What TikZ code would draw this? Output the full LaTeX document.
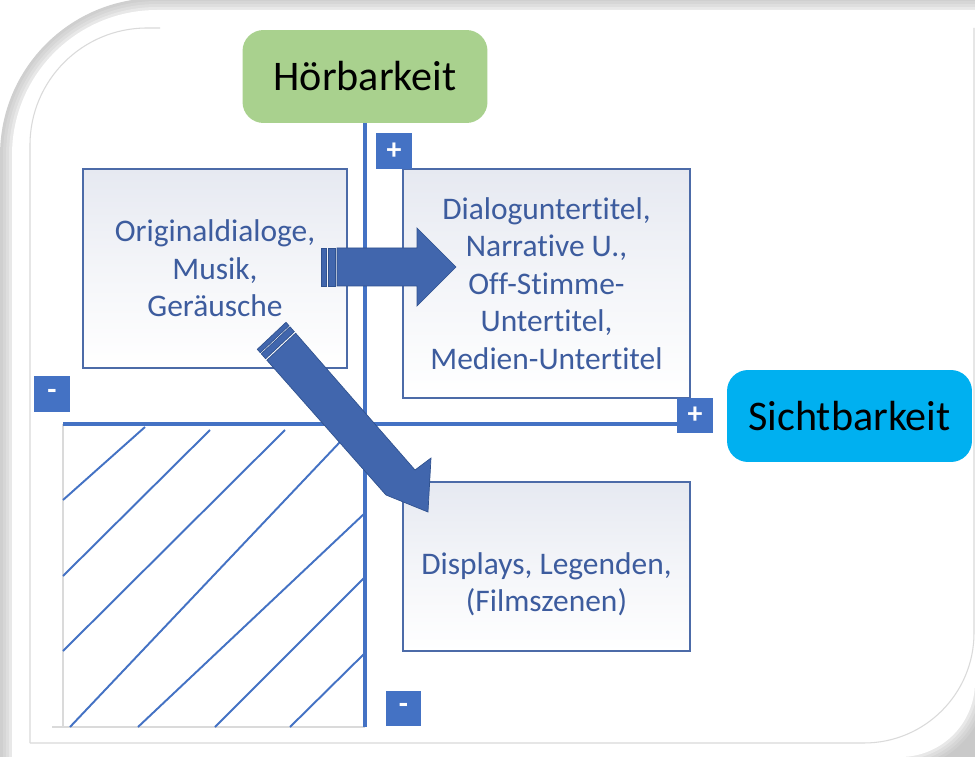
\documentclass[tikz,border=0pt]{standalone}
\usepackage{fontspec}
\setmainfont{Carlito}[Ligatures=NoCommon]
\definecolor{axisblue}{HTML}{4472C4}
\definecolor{arrowblue}{HTML}{4166AD}
\definecolor{arrowline}{HTML}{30528F}
\definecolor{boxline}{HTML}{4C6BA8}
\definecolor{textblue}{HTML}{3D5C9E}
\definecolor{boxtop}{HTML}{E6E9F1}
\definecolor{hoergreen}{HTML}{A9D18E}
\definecolor{sichtblue}{HTML}{00B0F0}
\definecolor{framegray}{HTML}{DADADA}
\begin{document}
\begin{tikzpicture}[x=0.02cm,y=-0.02cm,
  axisline/.style={draw=axisblue,line width=2pt},
  hatchline/.style={draw=axisblue,line width=1.1pt},
  hatchframe/.style={draw=framegray,line width=0.6pt},
  infobox/.style={draw=boxline,line width=1pt,top color=boxtop,bottom color=white,middle color=white!55!boxtop,
    inner sep=0pt,align=center,text=textblue,font=\fontsize{17.9}{21.3}\selectfont},
  titlebox/.style={rounded corners=0.42cm,inner sep=0pt,font=\fontsize{24}{28}\selectfont,text=black},
  signbox/.style={fill=axisblue,inner sep=0pt,minimum width=0.72cm,minimum height=0.71cm,
    text=white,font=\bfseries\fontsize{17}{17}\selectfont},
  blockarrow/.style={fill=arrowblue,draw=arrowline,line width=0.4pt,line join=miter}
]
\useasboundingbox (0,0) rectangle (975,757);
% page shadow and sheet
\fill[white] (0,0) rectangle (975,757);
\fill[black!16] (870,650) rectangle (975,757);
\fill[black!21] (935,720) rectangle (975,757);
\foreach \w/\c in {13.6/19,10.2/16,6.8/13,3.4/9}{
  \draw[black!\c,line width=\w pt] (12,800) -- (12,155) arc[start angle=180,end angle=270,radius=145] -- (1000,10);
  \draw[black!\c,line width=\w pt] (1000,682) -- (975,682) arc[start angle=0,end angle=90,radius=75] -- (900,800);
}
\fill[white] (12,757) -- (12,155) arc[start angle=180,end angle=270,radius=145]
  -- (975,10) -- (975,682) arc[start angle=0,end angle=90,radius=75] -- cycle;
% inner frame
\draw[framegray,line width=0.6pt] (30,743) -- (30,145) arc[start angle=180,end angle=270,radius=117]
  -- (160,28);
\draw[framegray,line width=0.6pt] (974,28) -- (974,633) arc[start angle=0,end angle=90,radius=110] -- (30,743);

% hatched quadrant
\draw[hatchframe] (63,424) -- (63,727);
\draw[hatchframe] (52,727) -- (365,727);
\draw[hatchline] (63,500) -- (145,427);
\draw[hatchline] (63,576) -- (210,430);
\draw[hatchline] (63,651) -- (285,430);
\draw[hatchline] (70,727) -- (340,442);
\draw[hatchline] (138,727) -- (365,513);
\draw[hatchline] (215,727) -- (365,577);
\draw[hatchline] (290,727) -- (365,653);

% title boxes
\node[titlebox,fill=hoergreen,minimum width=4.9cm,minimum height=1.86cm] (hoer) at (365,76.5) {Hörbarkeit};
\node[titlebox,fill=sichtblue,minimum width=4.9cm,minimum height=1.84cm] (sicht) at (849.5,416) {Sichtbarkeit};

% axes
\coordinate (vbot) at (365,727);
\coordinate (hleft) at (63,424);
\coordinate (hright) at (677,424);
\draw[axisline] (hoer.south) -- (vbot);
\draw[axisline] (hleft) -- (hright);

% content boxes
\node[infobox,minimum width=5.28cm,minimum height=3.98cm] (orig) at (215,268.5)
  {Originaldialoge,\\Musik,\\Geräusche};
\node[infobox,minimum width=5.74cm,minimum height=4.58cm] (dial) at (546.5,283.5)
  {Dialoguntertitel,\\Narrative U.,\\Off-Stimme-\\Untertitel,\\Medien-Untertitel};
\node[infobox,minimum width=5.74cm,minimum height=3.38cm] (disp) at (546.5,566.5) {};
\node[inner sep=0pt,align=center,text=textblue,font=\fontsize{17.9}{21.3}\selectfont] (disptext) at (546.5,584)
  {Displays, Legenden,\\(Filmszenen)};

% sign boxes
\node[signbox] (plustop) at (394,151) {+};
\node[signbox] (plusright) at (695,415.5) {+};
\node[signbox] (minusleft) at (52,394) {-};
\node[signbox] (minusbottom) at (403.5,708.5) {-};

% horizontal striped arrow
\fill[blockarrow] (321,248) rectangle (326,286);
\fill[blockarrow] (328,248) rectangle (335,286);
\fill[blockarrow] (337,248) -- (417,248) -- (417,228) -- (456,267) -- (417,306) -- (417,286) -- (337,286) -- cycle;

% diagonal striped arrow
\fill[blockarrow] (286,322.3) -- (257.3,349.3) -- (260.3,352.7) -- (289,325.7) -- cycle;
\fill[blockarrow] (290,326.8) -- (261.3,353.8) -- (265.6,358.7) -- (294.3,331.7) -- cycle;
\fill[blockarrow] (295.6,333.2) -- (415,470) -- (431,458) -- (428,512) -- (386,495) -- (266.9,360.2) -- cycle;
\end{tikzpicture}
\end{document}
